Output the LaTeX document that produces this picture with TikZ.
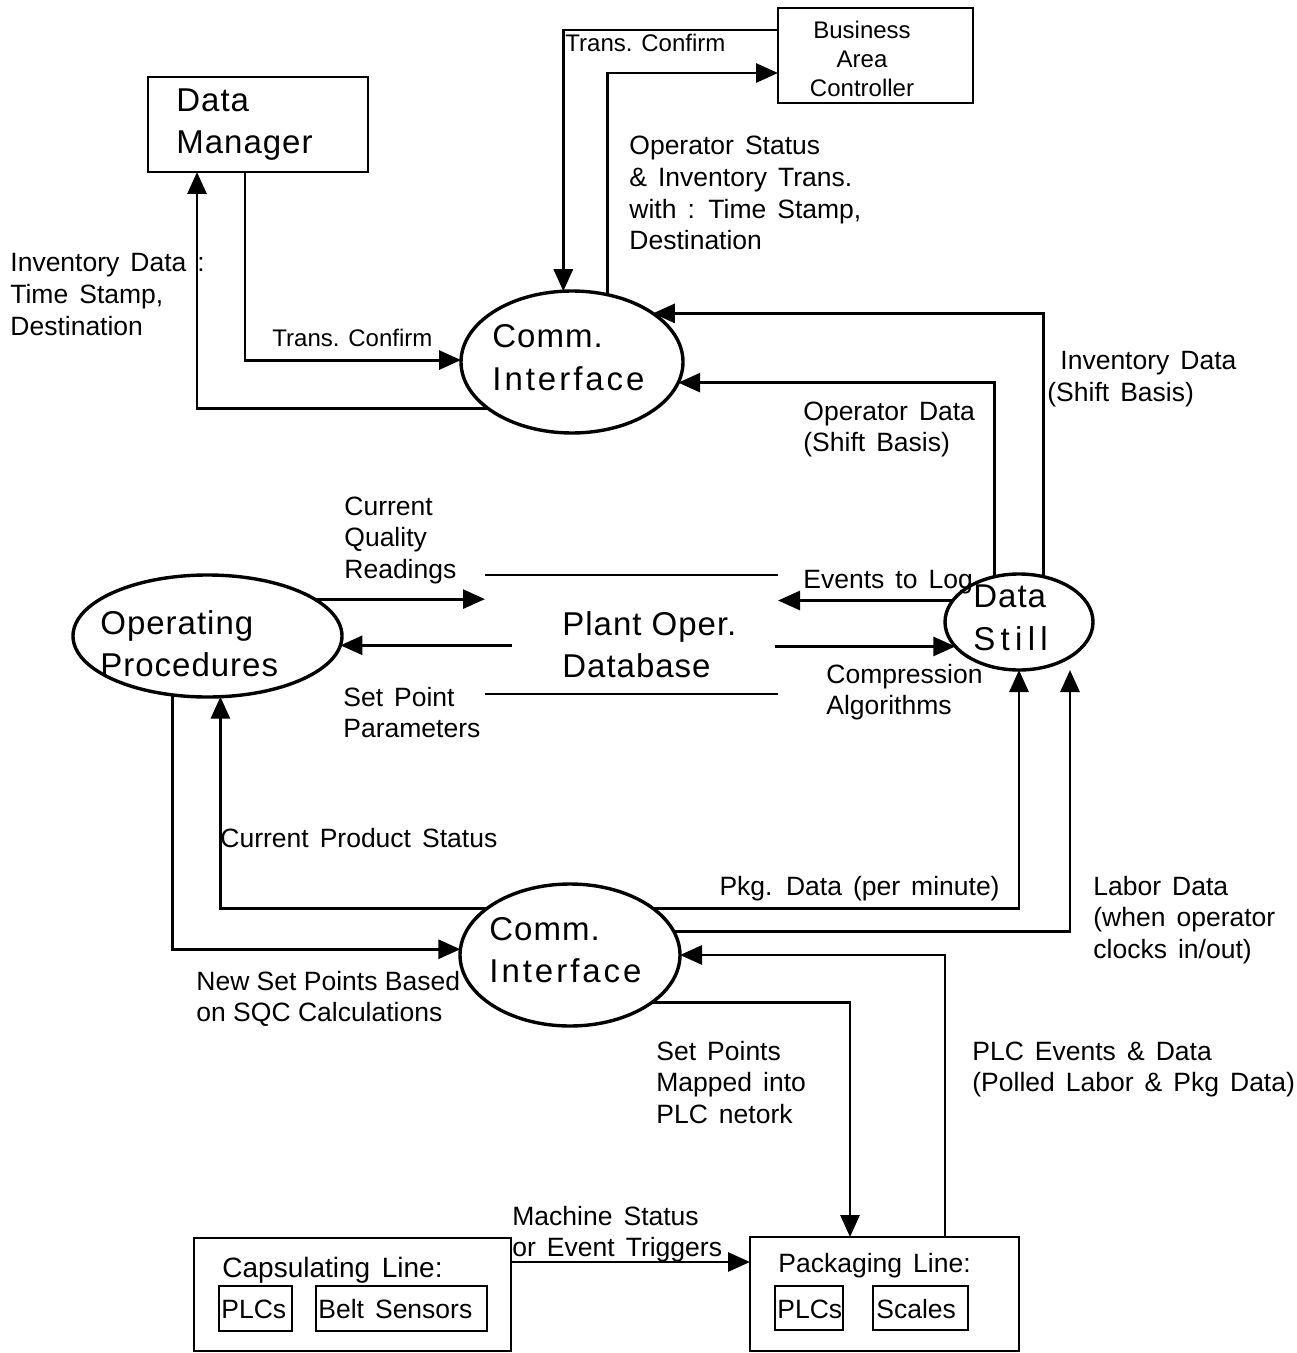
\documentclass[tikz,border=0pt]{standalone}
\usepackage{fontspec}
\setmainfont{Liberation Sans}[WordSpace=1.5]
\newfontfamily\tightfamily{Liberation Sans}
\newfontfamily\bigfamily{Liberation Sans}[LetterSpace=3]
\newfontfamily\spacedfamily{Liberation Sans}[LetterSpace=9]
\newfontfamily\widefamily{Liberation Sans}[LetterSpace=16]
\usetikzlibrary{shapes.geometric, arrows.meta}

% multi-line labels are placed by the baseline of their last line
\tikzset{
  flow/.style={line width=1.45pt, -{Triangle[length=11pt,width=9.5pt]}},
  plain/.style={line width=1.45pt},
  proc/.style={ellipse, draw, line width=1.7pt, inner sep=0pt, outer sep=0pt},
  box/.style={rectangle, draw, line width=1.4pt, inner sep=0pt, outer sep=0pt},
  lbl/.style={anchor=base west, align=left, inner sep=0pt, font=\fontsize{13.25}{15.85}\selectfont},
  small/.style={anchor=base west, align=left, inner sep=0pt, font=\tightfamily\fontsize{12}{14.5}\selectfont},
  big/.style={anchor=base west, align=left, inner sep=0pt, font=\bigfamily\fontsize{16.5}{21}\selectfont},
}

\begin{document}
\begin{tikzpicture}[x=0.5pt, y=-0.5pt]
\useasboundingbox (0,0) rectangle (1296,1353);

% ---------- processes and stores ----------
\node[box, minimum width=110pt, minimum height=47.5pt] (dm) at (258,124.5) {};
\node[big] (dmtext) at (176,154) {Data\\Manager};

\node[box, minimum width=97.5pt, minimum height=47.5pt] (bac) at (875.5,55.5) {};
\node[small, anchor=base, align=center] (bactext) at (862,96.5) {Business\\Area\\Controller};

\node[proc, minimum width=111pt, minimum height=71pt] (ci1) at (572,362) {};
\node[big] (ci1text) at (492,390) {Comm.\\{\spacedfamily Interface}};

\node[proc, minimum width=134.5pt, minimum height=61pt] (op) at (207.5,636) {};
\node[big] (optext) at (100,676) {Operating\\Procedures};

\node[proc, minimum width=74pt, minimum height=48pt] (ds) at (1019,622) {};
\node[big, font=\bigfamily\fontsize{16.5}{21.5}\selectfont] (dstext) at (973,650) {Data\\{\widefamily Still}};

\node[inner sep=0pt, outer sep=0pt, minimum width=146.5pt, minimum height=59.5pt] (db) at (631.5,634.5) {};
\draw[plain] (db.north west) -- (db.north east);
\draw[plain] (db.south west) -- (db.south east);
\node[big] (dbtext) at (562,677) {Plant Oper.\\Database};

\node[proc, minimum width=110pt, minimum height=71pt] (ci2) at (570,955) {};
\node[big] (ci2text) at (489,982) {Comm.\\{\spacedfamily Interface}};

% ---------- production lines ----------
\node[box, minimum width=158.5pt, minimum height=56.5pt] (cap) at (352.5,1294.5) {};
\node[lbl, font=\fontsize{14}{16}\selectfont] (captext) at (222,1277) {Capsulating Line:};
\node[box, minimum width=36.5pt, minimum height=22.5pt] (capplc) at (255.5,1308.5) {};
\node[lbl] (capplctext) at (221,1318) {PLCs};
\node[box, minimum width=85.5pt, minimum height=22.5pt] (capbelt) at (401.5,1308.5) {};
\node[lbl] (capbelttext) at (318,1318) {Belt Sensors};

\node[box, minimum width=134.5pt, minimum height=57pt] (pk) at (884.5,1294) {};
\node[lbl] (pktext) at (778,1272) {Packaging Line:};
\node[box, minimum width=34pt, minimum height=22pt] (pkplc) at (809,1308) {};
\node[lbl] (pkplctext) at (777,1318) {PLCs};
\node[box, minimum width=47.5pt, minimum height=22pt] (pkscale) at (920.5,1308) {};
\node[lbl] (pkscaletext) at (876,1318) {Scales};

% ---------- routing guides ----------
\coordinate (xdmout) at (245,0);
\coordinate (xdmin) at (197,0);
\coordinate (ytc) at (0,30);
\coordinate (ybac) at (0,73);
\coordinate (dbinL) at (512,0);
\coordinate (dbinR) at (775,0);
\coordinate (xlab) at (1070,0);
\coordinate (xplc) at (945,0);
\coordinate (xsp) at (850,0);
\coordinate (ymach) at (0,1262);

% ---------- data flows ----------
\draw[flow] (dm.south -| xdmout) |- (ci1.179);
\draw[flow] (ci1.209) -| (dm.south -| xdmin);
\draw[flow] (bac.west |- ytc) -| (ci1.97);
\draw[flow] (ci1.62) |- (bac.west |- ybac);
\draw[flow] (ds.62) |- (ci1.31);
\draw[flow] (ds.118) |- (ci1.349);
\draw[flow] (op.19) -- (op.19 -| db.west);
\draw[flow] (op.356 -| dbinL) -- (op.356);
\draw[flow] (ds.162) -- (ds.162 -| db.east);
\draw[flow] (ds.201 -| dbinR) -- (ds.201);
\draw[flow] (ci2.151) -| (op.282);
\draw[flow] (ci2.29) -| (ds.south);
\draw[flow] (ci2.13) -| (ds.south -| xlab);
\draw[flow] (op.239) |- (ci2.177);
\draw[flow] (pk.north -| xplc) |- (ci2.east);
\draw[flow] (ci2.330) -| (pk.north -| xsp);
\draw[flow] (cap.east |- ymach) -- (pk.west |- ymach);

% ---------- flow labels ----------
\node[small] (lbltc1) at (565,52) {Trans. Confirm};
\node[lbl] (lblos) at (629,250) {Operator Status\\\& Inventory Trans.\\with : Time Stamp,\\Destination};
\node[lbl] (lblid) at (10,335.4) {Inventory Data :\\Time Stamp,\\Destination};
\node[small] (lbltc2) at (272,347) {Trans. Confirm};
\node[lbl] (lblids) at (1047,401.7) {\hspace{6.5pt}Inventory Data\\(Shift Basis)};
\node[lbl] (lblods) at (803,451.7) {Operator Data\\(Shift Basis)};
\node[lbl] (lblcqr) at (344,578.4) {Current\\Quality\\Readings};
\node[lbl] (lblel) at (803,588) {Events to Log};
\node[lbl] (lblspp) at (343,737.7) {Set Point\\Parameters};
\node[lbl] (lblca) at (826,714.7) {Compression\\Algorithms};
\node[lbl] (lblcps) at (220,847) {Current Product Status};
\node[lbl, anchor=base east] (lblpkg) at (1000,895) {Pkg. Data (per minute)};
\node[lbl] (lbllab) at (1093,958.4) {Labor Data\\(when operator\\clocks in/out)};
\node[lbl, font=\tightfamily\fontsize{13.25}{15.85}\selectfont] (lblnsp) at (196,1021.7) {New Set Points Based\\on SQC Calculations};
\node[lbl] (lblspm) at (656,1123.4) {Set Points\\Mapped into\\PLC netork};
\node[lbl] (lblplc) at (972,1091.7) {PLC Events \& Data\\(Polled Labor \& Pkg Data)};
\node[lbl] (lblms) at (512,1256.7) {Machine Status\\or Event Triggers};
\end{tikzpicture}
\end{document}
